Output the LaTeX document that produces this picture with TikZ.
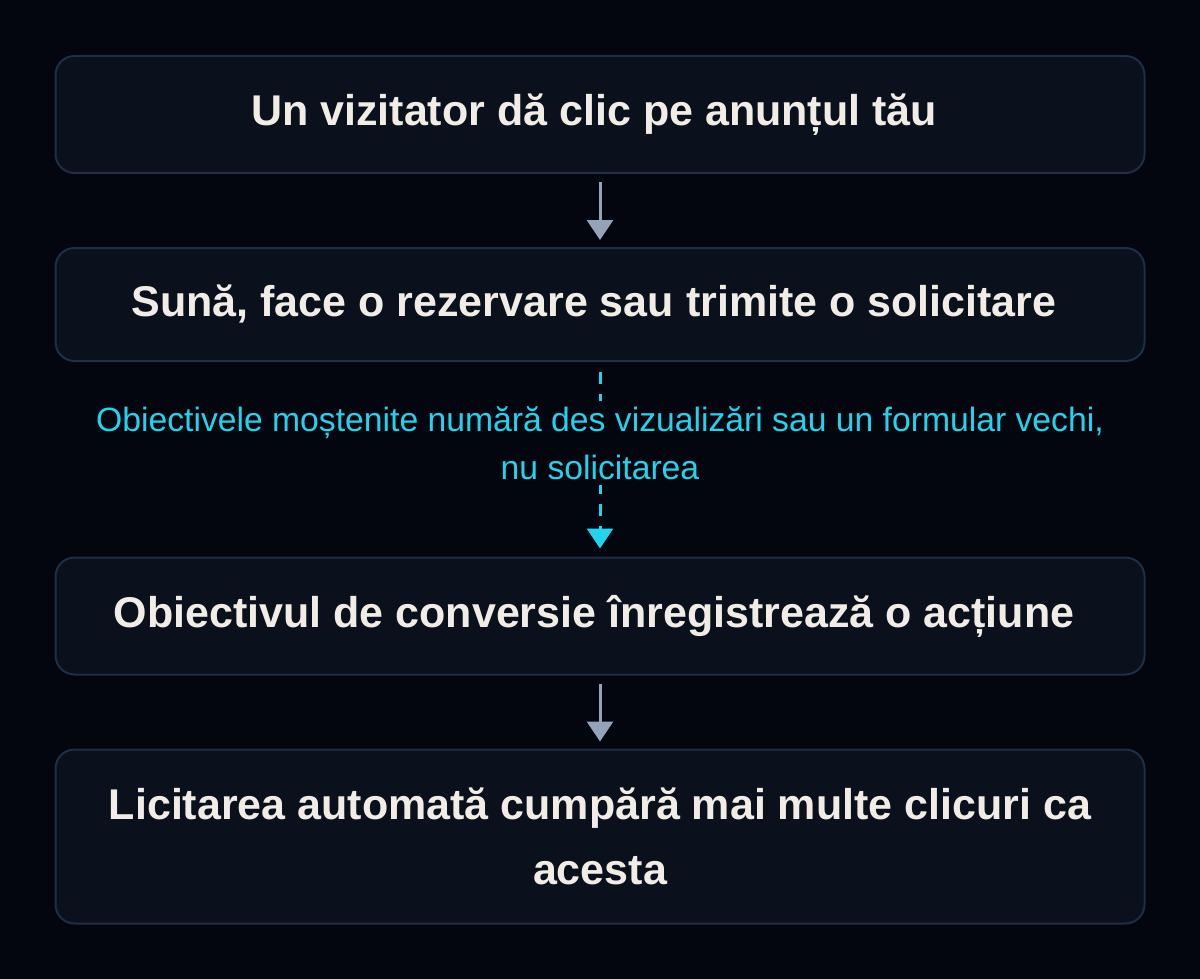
\documentclass[tikz,border=0pt]{standalone}
\usepackage{fontspec}
\setmainfont{Liberation Sans}
\usetikzlibrary{arrows.meta}
\definecolor{bgdark}{HTML}{03060F}
\definecolor{boxfill}{HTML}{0A111D}
\definecolor{boxline}{HTML}{202D46}
\definecolor{textwhite}{HTML}{F1EDE6}
\definecolor{arrowgrey}{HTML}{94A3B8}
\definecolor{notecyan}{HTML}{22D3EE}
\begin{document}
\begin{tikzpicture}[x=1pt, y=-1pt,
    stepbox/.style={draw=boxline, line width=2pt, fill=boxfill, rounded corners=19pt,
        minimum width=1089pt, text=textwhite, align=center,
        font=\fontsize{43}{65}\selectfont\bfseries},
    flow/.style={draw=arrowgrey, line width=3pt, -{Triangle[width=26pt,length=20pt]},
        shorten <=8pt, shorten >=7pt},
    leak/.style={draw=notecyan, line width=3pt, dash pattern=on 12pt off 10pt,
        -{Triangle[width=26pt,length=20pt]}, shorten <=10pt, shorten >=8pt},
    leaknote/.style={fill=bgdark, text=notecyan, align=center, inner xsep=2pt, inner ysep=5pt,
        font=\fontsize{33.7}{48}\selectfont}]
    \fill[bgdark] (0, 0) rectangle (1200, 979);

    \node[stepbox, minimum height=117pt] (click) at (600, 114.5) { Un vizitator dă clic pe anunțul tău };
    \node[stepbox, minimum height=113pt] (lead) at (600, 304.5) { Sună, face o rezervare sau trimite o solicitare };
    \node[stepbox, minimum height=117pt] (goal) at (600, 616) { Obiectivul de conversie înregistrează o acțiune };
    \node[stepbox, minimum height=174pt] (bid) at (600, 836.5) { Licitarea automată cumpără mai multe clicuri ca\\ acesta };

    \draw[flow] (click) -- (lead);
    \draw[leak] (lead) -- node[leaknote, pos=0.416] { Obiectivele moștenite numără des vizualizări sau un formular vechi,\\ nu solicitarea } (goal);
    \draw[flow] (goal) -- (bid);
\end{tikzpicture}
\end{document}
